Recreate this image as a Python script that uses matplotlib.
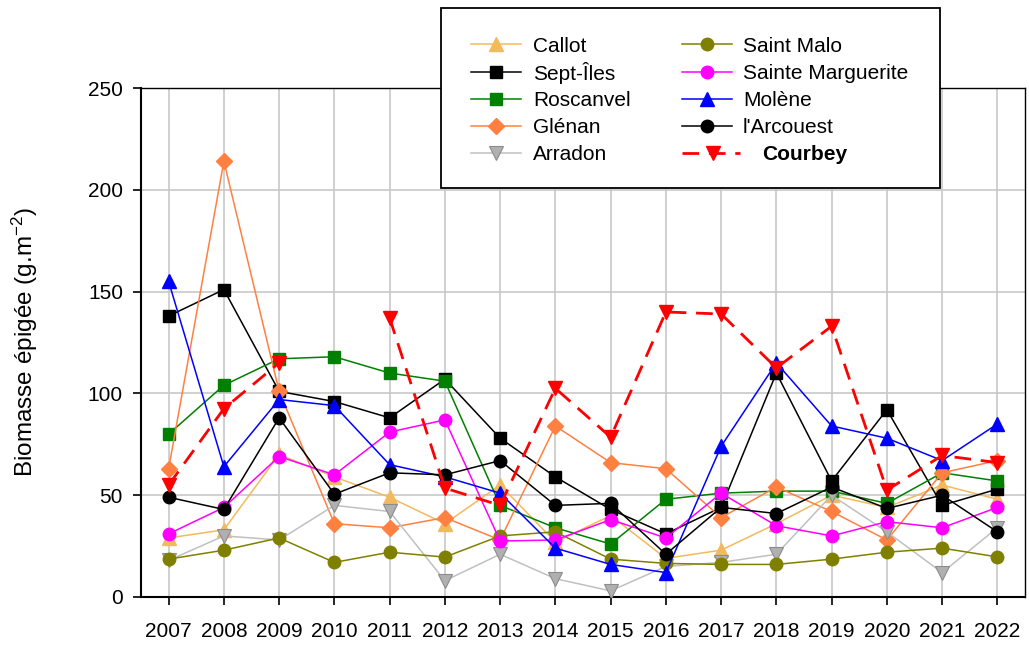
import numpy as np
import matplotlib
matplotlib.use("Agg")
import matplotlib.pyplot as plt
from matplotlib.lines import Line2D
from matplotlib.patches import Rectangle

plt.rcParams['font.family'] = ['Liberation Sans', 'DejaVu Sans']
plt.rcParams['mathtext.default'] = 'regular'

years = list(range(2007, 2023))
nan = np.nan

callot = [29, 33, 70, 59, 49, 36, 55, 27, 40, 19, 23, 36, 50, 44, 55, 48]
sept_iles = [138, 151, 101, 96, 88, 107, 78, 59, 43, 31, 44, 110, 57, 92, 45, 53]
roscanvel = [80, 104, 117, 118, 110, 106, 45, 34, 26, 48, 51, 52, 52, 46, 61, 57]
glenan = [63, 214, 101, 36, 34, 39, 28, 84, 66, 63, 39, 54, 42, 28, 61, 67]
arradon = [18, 30, 28, 45, 42, 8, 21, 9, 3, 15, 17, 21, 50, 32, 12, 34]
saint_malo = [18.6, 23, 29, 17, 22, 19.6, 30, 32, 18.6, 16.5, 16, 16, 18.6, 22, 24, 19.7]
sainte_marguerite = [31, 44, 69, 60, 81, 87, 27.5, 28, 38, 29, 51, 35, 30, 37, 34, 44]
molene = [155, 64, 97, 94, 65, 59, 51, 24, 16, 12, 74, 115, 84, 78, 67, 85]
arcouest = [49, 43, 88, 50.5, 61, 60, 67, 45, 46, 21, 44, 41, 54, 43.5, 50, 32]
courbey = [55, 92.5, 115, nan, 137, 53.5, 45, 102.5, 78.5, 140, 139, 112.5, 133, 52.5, 69.5, 66]

W, H = 1029, 646
fig = plt.figure(figsize=(W / 100, H / 100), dpi=100)
ax = fig.add_axes([141 / W, 49 / H, (1025 - 141) / W, (597 - 88) / H])

ms = 9
lw = 1.1
series = [
    ("Callot", callot, dict(color="#F2BA5C", marker="^", ms=ms + 0.5, mfc="#F2BA5C", mec="#F2BA5C")),
    ("Sept-Îles", sept_iles, dict(color="black", marker="s", ms=ms, mfc="black", mec="black")),
    ("Roscanvel", roscanvel, dict(color="#008000", marker="s", ms=ms, mfc="#008000", mec="#008000")),
    ("Glénan", glenan, dict(color="#FF8040", marker="D", ms=ms - 0.5, mfc="#FF8040", mec="#FF8040")),
    ("Arradon", arradon, dict(color="#C0C0C0", marker="v", ms=ms + 0.5, mfc="#B0B0B0", mec="#8C8C8C", mew=0.8)),
    ("Saint Malo", saint_malo, dict(color="#808000", marker="o", ms=ms, mfc="#808000", mec="#808000")),
    ("Sainte Marguerite", sainte_marguerite, dict(color="#FF00FF", marker="o", ms=ms, mfc="#FF00FF", mec="#FF00FF")),
    ("Molène", molene, dict(color="#0000FF", marker="^", ms=ms + 0.5, mfc="#0000FF", mec="#0000FF")),
    ("l'Arcouest", arcouest, dict(color="black", marker="o", ms=ms, mfc="black", mec="black")),
]
courbey_kw = dict(color="#FF0000", lw=2, ls=(0, (6, 3.5)), marker="v", ms=ms + 1.5,
                  mfc="#FF0000", mec="#FF0000")

for name, vals, kw in series:
    ax.plot(years, vals, lw=lw, zorder=3, **kw)
ax.plot(years, courbey, zorder=4, **courbey_kw)

ax.set_xlim(2006.5, 2022.5)
ax.set_ylim(0, 250)
ax.set_xticks(years)
ax.set_xticklabels([str(y) for y in years])
ax.set_yticks([0, 50, 100, 150, 200, 250])
ax.grid(True, color="#C8C8C8", lw=1.2, zorder=0)
ax.set_axisbelow(True)
ax.tick_params(axis="both", labelsize=15, direction="out", length=6, width=1.2, colors="black")
ax.tick_params(axis="x", pad=12)
ax.tick_params(axis="y", pad=7)
for s in ["left", "bottom"]:
    ax.spines[s].set_linewidth(1.5)
for s in ["top", "right"]:
    ax.spines[s].set_linewidth(1.0)
fig.text(25 / W, 1 - 342 / H, "Biomasse épigée (g.m$^{-2}$)", fontsize=17.5,
         rotation=90, ha="center", va="center")

# manual legend (pixel layout)
def fx(x):
    return x / W

def fy(y):
    return 1 - y / H

fig.patches.append(Rectangle((fx(441), fy(188)), fx(940) - fx(441), fy(8) - fy(188),
                             transform=fig.transFigure, facecolor="white",
                             edgecolor="black", lw=1.3, zorder=10))
rows = [44.3, 71.5, 98.5, 125.7, 152.5]
col1 = series[:5]
col2 = series[5:]
for i, (name, vals, kw) in enumerate(col1):
    y = fy(rows[i])
    fig.add_artist(Line2D([fx(471), fx(521)], [y, y], lw=lw, color=kw["color"],
                          transform=fig.transFigure, zorder=11))
    mk = {k: v for k, v in kw.items() if k != "color"}
    fig.add_artist(Line2D([fx(496)], [y], lw=0, transform=fig.transFigure, zorder=12, **mk))
    fig.text(fx(533), y, name, fontsize=15, ha="left", va="center_baseline", zorder=12)
for i, (name, vals, kw) in enumerate(col2):
    y = fy(rows[i])
    fig.add_artist(Line2D([fx(682), fx(732)], [y, y], lw=lw, color=kw["color"],
                          transform=fig.transFigure, zorder=11))
    mk = {k: v for k, v in kw.items() if k != "color"}
    fig.add_artist(Line2D([fx(707)], [y], lw=0, transform=fig.transFigure, zorder=12, **mk))
    fig.text(fx(743), y, name, fontsize=15, ha="left", va="center_baseline", zorder=12)
y = fy(rows[4])
fig.add_artist(Line2D([fx(682), fx(740)], [y, y], color="#FF0000", lw=2, ls=(0, (6, 3.5)),
                      transform=fig.transFigure, zorder=11))
fig.add_artist(Line2D([fx(713)], [y], lw=0, marker="v", ms=ms + 1.5, mfc="#FF0000",
                      mec="#FF0000", transform=fig.transFigure, zorder=12))
fig.text(fx(762), y, "Courbey", fontsize=15, fontweight="bold", ha="left",
         va="center_baseline", zorder=12)

fig.savefig("out.png", dpi=100)
